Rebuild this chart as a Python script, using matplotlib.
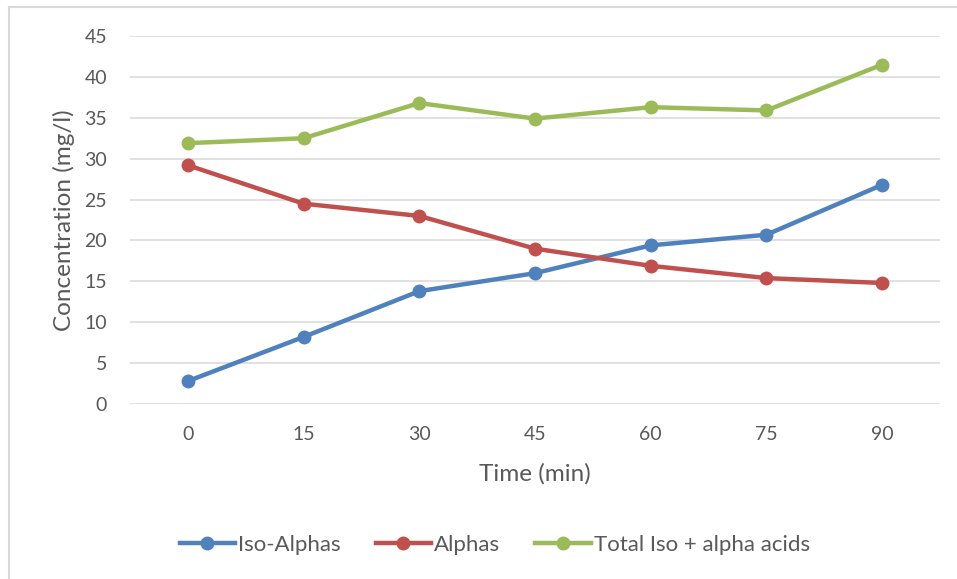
"""Iso-alpha / alpha acid concentration over boil time"""

import matplotlib
matplotlib.use("Agg")
import matplotlib.pyplot as plt
from matplotlib.lines import Line2D

# data
time_labels = ["0", "15", "30", "45", "60", "75", "90"]
iso_alphas = [2.8, 8.2, 13.8, 16.0, 19.4, 20.7, 26.8]
alphas = [29.2, 24.5, 23.0, 19.0, 16.9, 15.4, 14.8]
total_acids = [31.9, 32.5, 36.8, 34.9, 36.3, 35.9, 41.5]

series = [
    ("Iso-Alphas", iso_alphas, "#4F81BD"),
    ("Alphas", alphas, "#C0504D"),
    ("Total Iso + alpha acids", total_acids, "#9BBB59"),
]

plt.rcParams["font.family"] = ["Lato", "DejaVu Sans"]
text_color = "#595959"

fig = plt.figure(figsize=(9.57, 5.79), dpi=100)
ax = fig.add_axes([0.1358, 0.3022, 0.8464, 0.6356])

x = range(len(time_labels))
for name, values, color in series:
    ax.plot(x, values, color=color, lw=3.2, marker="o", markersize=9,
            label=name, solid_capstyle="round", zorder=3)

ax.set_xlim(-0.5, len(time_labels) - 0.5)
ax.set_ylim(0, 45)
ax.set_yticks(range(0, 46, 5))
ax.set_xticks(list(x))
ax.set_xticklabels(time_labels)
ax.grid(axis="y", color="#D9D9D9", lw=1.1)
ax.set_axisbelow(True)
for side in ["top", "right", "left", "bottom"]:
    ax.spines[side].set_visible(False)
ax.tick_params(length=0, labelsize=14, colors=text_color)
ax.tick_params(axis="x", pad=16)
ax.tick_params(axis="y", pad=16.5)

ax.set_xlabel("Time (min)", fontsize=17.5, color=text_color, labelpad=14)
ax.set_ylabel("Concentration (mg/l)", fontsize=17.5, color=text_color, labelpad=7)

handles = [Line2D([], [], color=c, lw=3.2, marker="o", markersize=9) for _, _, c in series]
fig.legend(handles, [s[0] for s in series], loc="center", bbox_to_anchor=(0.517, 0.0587),
           ncol=3, frameon=False, fontsize=16, labelcolor=text_color,
           handlelength=2.5, handletextpad=0.15, columnspacing=1.55)

# chart frame (only top and left edges are in the screenshot)
fig.add_artist(Line2D([9 / 957, 1], [1 - 7 / 579, 1 - 7 / 579], color="#D9D9D9", lw=1.5,
                      transform=fig.transFigure))
fig.add_artist(Line2D([9 / 957, 9 / 957], [0, 1 - 7 / 579], color="#D9D9D9", lw=1.5,
                      transform=fig.transFigure))

fig.savefig("out.png", dpi=100)
